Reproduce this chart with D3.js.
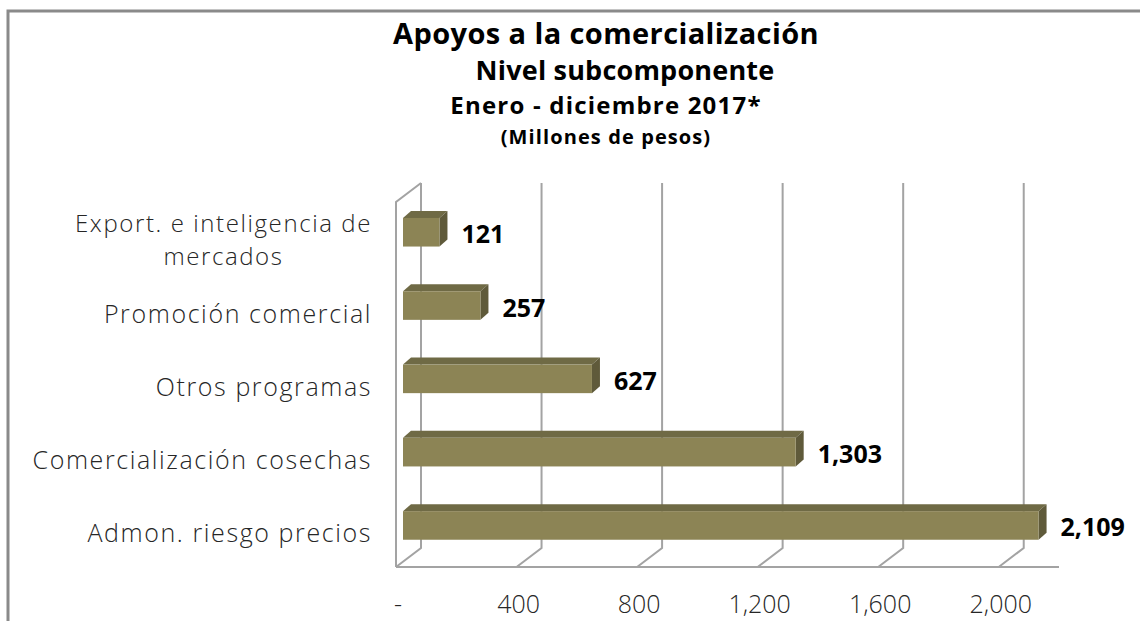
<!DOCTYPE html>
<html>
<head>
<meta charset="utf-8">
<script src="https://cdn.jsdelivr.net/npm/d3@7"></script>
<style>
  body { margin: 0; background: #fff; }
  svg { display: block; }
  text { font-family: "Open Sans", sans-serif; }
</style>
</head>
<body>
<svg id="chart"></svg>
<script>
var width = 1140;
var height = 621;

// datos
var categorias = ["Export. e inteligencia de|mercados", "Promoción comercial", "Otros programas", "Comercialización cosechas", "Admon. riesgo precios"];
var valores = [121, 257, 627, 1303, 2109];
var ticks = [0, 400, 800, 1200, 1600, 2000];
var titulos = ["Apoyos a la comercialización", "Nivel subcomponente", "Enero - diciembre 2017*", "(Millones de pesos)"];

var svg = d3.select("#chart").attr("width", width).attr("height", height);

// marco
svg.append("path")
  .attr("d", "M8," + (height + 5) + "V11H" + (width + 5))
  .attr("fill", "none")
  .attr("stroke", "#8a8a8a")
  .attr("stroke-width", 3);

// profundidad del 3d
var dx = 25, dy = -19;
var floorY = 567, topY = 202;

// escalas (plano frontal)
var x = d3.scaleLinear().domain([0, 2200]).range([396, 1059]);
var y = d3.scaleBand().domain(categorias).range([195.6, 562.1]).paddingInner(0.61).paddingOuter(0.305);

var grid = svg.append("g").attr("stroke", "#a3a3a3").attr("stroke-width", 2).attr("fill", "none");

// pared izquierda
grid.append("path")
  .attr("d", "M" + x(0) + "," + floorY + "V" + topY + "L" + (x(0) + dx) + "," + (topY + dy));

// lineas de la pared del fondo y piso
ticks.forEach(function (t) {
  grid.append("path")
    .attr("d", "M" + (x(t) + dx) + "," + (topY + dy) + "V" + (floorY + dy) + "L" + x(t) + "," + floorY);
});
grid.append("line")
  .attr("x1", x(0)).attr("x2", x(2200))
  .attr("y1", floorY).attr("y2", floorY);

// barras
var off = 7;        // desplazamiento del frente de la barra
var bx = 8, by = -7; // profundidad de la barra
var barras = svg.append("g");
categorias.forEach(function (c, i) {
  var x0 = x(0) + off, x1 = x(valores[i]) + off;
  var y0 = y(c), y1 = y(c) + y.bandwidth();
  // cara superior
  barras.append("path")
    .attr("d", "M" + x0 + "," + y0 + "L" + (x0 + bx) + "," + (y0 + by) + "H" + (x1 + bx) + "L" + x1 + "," + y0 + "Z")
    .attr("fill", "#6f6a45");
  // cara lateral
  barras.append("path")
    .attr("d", "M" + x1 + "," + y0 + "L" + (x1 + bx) + "," + (y0 + by) + "V" + (y1 + by) + "L" + x1 + "," + y1 + "Z")
    .attr("fill", "#5f5a3a");
  // frente
  barras.append("rect")
    .attr("x", x0).attr("y", y0)
    .attr("width", x1 - x0).attr("height", y1 - y0)
    .attr("fill", "#8c8455");

  // valor
  svg.append("text")
    .attr("x", x1 + bx + 14)
    .attr("y", y0 + y.bandwidth() / 2 + 2)
    .attr("dy", "0.36em")
    .style("font-size", "25px")
    .style("font-weight", "bold")
    .style("fill", "#000")
    .text(d3.format(",")(valores[i]));

  // etiqueta de categoria (un solo text, una linea por tspan)
  var lineas = c.split("|");
  var cy = y0 + y.bandwidth() / 2 + 8;
  var fs = lineas.length > 1 ? 24 : 25;
  var t = svg.append("text")
    .style("font-size", fs + "px")
    .style("font-weight", "300")
    .style("letter-spacing", "1.6px")
    .style("fill", "#262626");
  var primera = null;
  lineas.forEach(function (l, j) {
    var s = t.append("tspan")
      .attr("y", cy + (j - (lineas.length - 1) / 2) * 33)
      .attr("dy", "0.36em")
      .text(l);
    if (j === 0) {
      s.attr("x", 372).attr("text-anchor", "end");
      primera = s.node().getComputedTextLength();
    } else {
      s.attr("x", 372 - primera / 2).attr("text-anchor", "middle");
    }
  });
});

// eje x
svg.selectAll(".tick-label")
  .data(ticks)
  .enter().append("text")
  .attr("class", "tick-label")
  .attr("x", function (d) { return x(d) + 2; })
  .attr("y", 613)
  .attr("text-anchor", "middle")
  .style("font-size", "25px")
  .style("font-weight", "300")
  .style("fill", "#262626")
  .text(function (d) { return d === 0 ? "-" : d3.format(",")(d); });

// titulos
var tsize = [29, 27, 24, 20];
var tspace = [0.4, 0.2, 1.2, 1.1];
var tx = [606, 625, 606, 606];
var ty = [44, 80, 114, 144];
titulos.forEach(function (s, i) {
  svg.append("text")
    .attr("x", tx[i])
    .attr("y", ty[i])
    .attr("text-anchor", "middle")
    .style("font-size", tsize[i] + "px")
    .style("font-weight", "bold")
    .style("letter-spacing", tspace[i] + "px")
    .style("fill", "#000")
    .text(s);
});
</script>
</body>
</html>
